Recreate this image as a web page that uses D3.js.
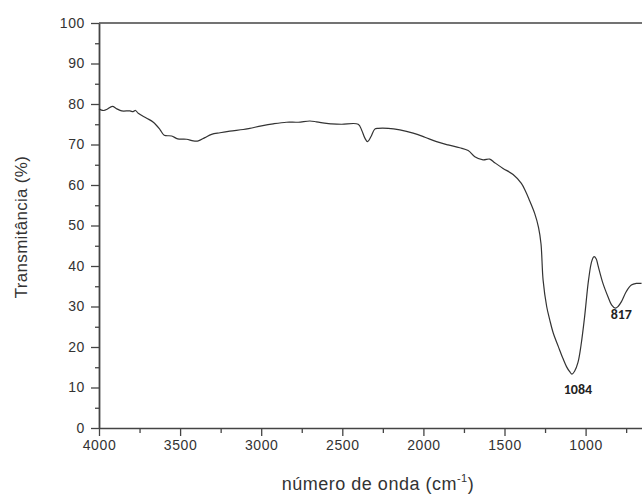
<!DOCTYPE html>
<html>
<head>
<meta charset="utf-8">
<script src="https://cdn.jsdelivr.net/npm/d3@7"></script>
<style>
  html, body { margin: 0; padding: 0; background: #fff; }
  svg { display: block; }
  .tick text { font-family: "Liberation Sans", Arial, sans-serif; font-size: 14px; fill: #333; letter-spacing: 0.6px; }
</style>
</head>
<body>
<svg id="chart" width="642" height="496"></svg>
<script>
// FTIR spectrum: wavenumber (cm-1) and transmittance (%)
const wavenumber = [
  4000, 3985, 3970, 3950, 3918, 3890, 3860, 3809, 3790, 3775, 3758, 3706, 3665,
  3624, 3598, 3552, 3515, 3460, 3419, 3388, 3347, 3306, 3254, 3193, 3111, 3070,
  2998, 2926, 2844, 2772, 2700, 2659, 2597, 2566, 2505, 2402, 2381, 2360, 2344,
  2324, 2300, 2279, 2217, 2145, 2063, 1991, 1919, 1848, 1776, 1724, 1683, 1632,
  1591, 1560, 1509, 1447, 1396, 1371, 1349, 1314, 1290, 1275, 1262, 1240, 1221,
  1199, 1168, 1140, 1117, 1098, 1084, 1068, 1047, 1028, 1006, 982, 962, 948,
  935, 924, 893, 862, 840, 817, 800, 779, 749, 718, 687, 655
];
const transmittance = [
  78.8, 78.5, 78.4, 78.7, 79.4, 78.8, 78.3, 78.3, 78.1, 78.4, 77.7, 76.5, 75.5,
  73.7, 72.3, 72.1, 71.4, 71.3, 70.9, 70.9, 71.7, 72.5, 72.9, 73.3, 73.7, 74.0,
  74.6, 75.1, 75.5, 75.5, 75.8, 75.6, 75.2, 75.1, 75.0, 75.0, 73.6, 71.5, 70.7,
  71.9, 73.8, 74.0, 74.0, 73.6, 72.8, 71.8, 70.7, 69.9, 69.2, 68.5, 67.0, 66.2,
  66.4, 65.5, 64.1, 62.6, 60.4, 58.5, 56.5, 53.0, 49.5, 45.5, 36.5, 30.0, 26.7,
  23.4, 20.1, 17.2, 15.1, 13.9, 13.3, 14.0, 16.2, 20.5, 27.5, 36.5, 41.2, 42.3,
  41.8, 40.2, 35.7, 32.4, 30.4, 29.6, 30.0, 31.2, 33.7, 35.3, 35.7, 35.7
];
// peak labels
const peakLabels = [1084, 817];
const peakValues = [13.3, 29.6];

const xTicks = [4000, 3500, 3000, 2500, 2000, 1500, 1000];
const xMinorTicks = [3750, 3250, 2750, 2250, 1750, 1250, 750];
const yTicks = [0, 10, 20, 30, 40, 50, 60, 70, 80, 90, 100];
const yMinorTicks = [5, 15, 25, 35, 45, 55, 65, 75, 85, 95];

const svg = d3.select("#chart");
const plotLeft = 99, plotTop = 23, plotBottom = 428;

const x = d3.scaleLinear().domain([4000, 400]).range([plotLeft, plotLeft + 3600 * 0.1622]);
const y = d3.scaleLinear().domain([0, 100]).range([plotBottom, plotTop]);

const axisColor = "#444";

// minor ticks
svg.append("g")
  .attr("transform", `translate(0,${plotBottom})`)
  .call(d3.axisBottom(x).tickValues(xMinorTicks).tickSize(5).tickSizeOuter(0).tickFormat(""))
  .call(g => g.select(".domain").remove())
  .call(g => g.selectAll("line").attr("stroke", axisColor).attr("stroke-width", 1.3));
svg.append("g")
  .attr("transform", `translate(${plotLeft},0)`)
  .call(d3.axisLeft(y).tickValues(yMinorTicks).tickSize(4).tickSizeOuter(0).tickFormat(""))
  .call(g => g.select(".domain").remove())
  .call(g => g.selectAll("line").attr("stroke", axisColor).attr("stroke-width", 1.3));

// major axes
svg.append("g")
  .attr("transform", `translate(0,${plotBottom})`)
  .call(d3.axisBottom(x).tickValues(xTicks).tickSize(8).tickSizeOuter(0).tickPadding(4).tickFormat(d3.format("d")))
  .call(g => g.select(".domain").attr("stroke", axisColor).attr("stroke-width", 1.6).attr("d", `M${plotLeft},0.5H642`))
  .call(g => g.selectAll("line").attr("stroke", axisColor).attr("stroke-width", 1.3));

svg.append("g")
  .attr("transform", `translate(${plotLeft},0)`)
  .call(d3.axisLeft(y).tickValues(yTicks).tickSize(8).tickSizeOuter(0).tickPadding(6).tickFormat(d3.format("d")))
  .call(g => g.select(".domain").attr("stroke", axisColor).attr("stroke-width", 1.8))
  .call(g => g.selectAll("line").attr("stroke", axisColor).attr("stroke-width", 1.3));

// top frame line
svg.append("line")
  .attr("x1", plotLeft).attr("x2", 642)
  .attr("y1", y(100)).attr("y2", y(100))
  .attr("stroke", axisColor).attr("stroke-width", 1.6);

// spectrum
const points = wavenumber.map((w, i) => [w, transmittance[i]]);
svg.append("path")
  .datum(points)
  .attr("fill", "none")
  .attr("stroke", "#333")
  .attr("stroke-width", 1.2)
  .attr("d", d3.line().x(d => x(d[0])).y(d => y(d[1])).curve(d3.curveCatmullRom.alpha(0.5)));

// peak annotations
const labelOffsets = [19.5, 10.5];
svg.selectAll("text.peak")
  .data(peakLabels)
  .join("text")
  .attr("class", "peak")
  .attr("x", d => x(d) + 6)
  .attr("y", (d, i) => y(peakValues[i]) + labelOffsets[i])
  .attr("text-anchor", "middle")
  .attr("font-family", "Carlito, 'Liberation Sans', Arial, sans-serif")
  .attr("font-weight", "bold")
  .attr("font-size", 14)
  .attr("fill", "#222")
  .text(d => d);

// axis titles
svg.append("text")
  .attr("transform", `translate(27,227) rotate(-90)`)
  .attr("text-anchor", "middle")
  .attr("font-family", "'Liberation Sans', Arial, sans-serif")
  .attr("font-size", 17)
  .attr("letter-spacing", 0.3)
  .attr("fill", "#333")
  .text("Transmitância (%)");

const xt = svg.append("text")
  .attr("x", 378).attr("y", 490)
  .attr("text-anchor", "middle")
  .attr("font-family", "'Liberation Sans', Arial, sans-serif")
  .attr("font-size", 18)
  .attr("letter-spacing", 0.5)
  .attr("fill", "#333");
xt.append("tspan").text("número de onda (cm");
xt.append("tspan").attr("font-size", 11).attr("dy", -8).text("-1");
xt.append("tspan").attr("dy", 8).text(")");
</script>
</body>
</html>
